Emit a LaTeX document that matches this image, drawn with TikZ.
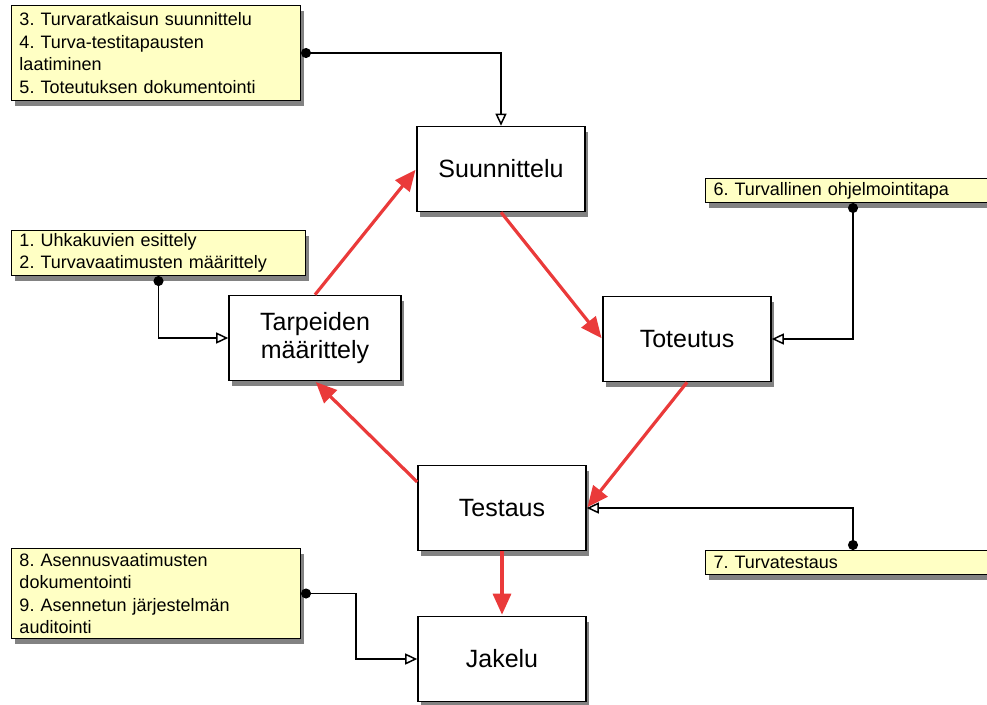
\documentclass[tikz,border=0pt]{standalone}
\usepackage{fontspec}
\setmainfont{Liberation Sans}
\frenchspacing
\usepackage{tikz}
\usetikzlibrary{arrows.meta,positioning,calc}
\usepackage{xcolor}
\definecolor{notefill}{RGB}{255,255,196}
\definecolor{flowred}{RGB}{234,58,58}
\definecolor{shadowgray}{RGB}{130,130,130}

\begin{document}
\begin{tikzpicture}[x=1pt, y=-1pt, every node/.style={font=\fontsize{18}{22.5}\selectfont}]
\tikzset{shade box/.style={preaction={fill=shadowgray, transform canvas={xshift=3pt, yshift=-5pt}}}}
\tikzset{phase/.style={draw, fill=white, line width=1.6pt, minimum width=168pt, minimum height=85pt, align=center, shade box, font=\fontsize{25}{28}\selectfont}}
\tikzset{note/.style={draw, fill=notefill, line width=1pt, anchor=north west, align=left, inner xsep=8pt, inner ysep=2pt, shade box}}
\tikzset{flow/.style={-{Triangle[length=21pt, width=18pt]}, line width=3.2pt, flowred, shorten >=1pt}}
\tikzset{link/.style={{Circle[length=10pt]}-{Triangle[open, length=12pt, width=11pt]}, line width=1.5pt, black}}

\clip (0,0) rectangle (987,704);

% Phases
\node[phase] (suun) at (501,169) {Suunnittelu};
\node[phase] (tote) at (687,339) {Toteutus};
\node[phase, minimum width=172pt] (tarp) at (315,338) {Tarpeiden\\määrittely};
\node[phase] (test) at (502,508) {Testaus};
\node[phase] (jak) at (502,659) {Jakelu};

% Notes
\node[note, text width=273pt, minimum height=95pt] (n1) at (11,5) {3. Turvaratkaisun suunnittelu\\4. Turva-testitapausten\\laatiminen\\5. Toteutuksen dokumentointi};
\node[note, text width=278pt, minimum height=45pt] (n2) at (11,230) {1. Uhkakuvien esittely\\2. Turvavaatimusten määrittely};
\node[note, text width=279pt, minimum height=24pt] (n3) at (705,178) {6. Turvallinen ohjelmointitapa};
\node[note, text width=279pt, minimum height=24pt] (n4) at (705,550) {7. Turvatestaus};
\node[note, text width=273pt, minimum height=90pt] (n5) at (11,548) {8. Asennusvaatimusten\\dokumentointi\\9. Asennetun järjestelmän\\auditointi};

% Cycle
\draw[flow] (tarp.north) -- (suun.west);
\draw[flow] (suun.south) -- (tote.west);
\draw[flow] (tote.south) -- (test.east);
\draw[flow] ([yshift=26pt]test.west) -- (tarp.south);
\draw[flow] (test.south) -- (jak.north);

% Notes to phases
\draw[link] (n1.east) -| (suun.north);
\draw[link] (n2.south) |- (tarp.west);
\draw[link] (n3.south) |- (tote.east);
\draw[link] (n4.north) |- (test.east);
\draw[link] (n5.east) -- ++(55,0) |- (jak.west);
\end{tikzpicture}
\end{document}
